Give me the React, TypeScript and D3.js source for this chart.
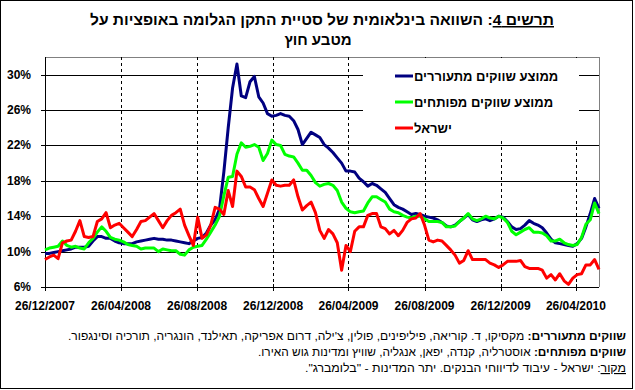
import React from 'react';
import * as d3 from 'd3';

// weekly observations, first one on 26/12/2007
const startDate = new Date(2007, 11, 26);

const emerging = [
  9.8, 9.8, 9.9, 10.0, 10.1, 10.2, 10.3, 10.5, 10.5, 10.5,
  10.6, 11.2, 11.7, 11.7, 11.5, 11.5, 11.2, 11.0, 10.9, 10.9,
  10.9, 11.1, 11.2, 11.3, 11.4, 11.5, 11.4, 11.4, 11.3, 11.3,
  11.2, 11.1, 11.0, 10.9, 11.2, 11.5, 11.6, 12.1, 13.0, 13.6,
  14.8, 19.0, 24.0, 28.5, 31.2, 27.6, 27.4, 29.2, 29.8, 27.5,
  26.8, 25.6, 25.3, 25.4, 25.6, 25.4, 25.3, 24.8, 23.8, 22.1,
  22.8, 23.5, 23.2, 22.9, 22.1, 21.7, 21.2, 20.6, 20.0, 19.1,
  19.1, 19.0, 18.3, 17.9, 17.4, 17.7, 17.5, 17.1, 16.7, 16.0,
  15.3, 15.0, 14.8, 14.5, 14.2, 14.3, 14.2, 14.0, 13.9, 13.8,
  13.6, 13.3, 12.9, 12.8, 13.0, 13.4, 13.8, 14.2, 13.6, 13.4,
  13.6, 13.7, 13.5, 13.7, 14.0, 13.9, 13.4, 12.8, 12.5, 12.6,
  13.0, 13.5, 13.2, 13.0, 12.7, 12.1, 11.4, 11.0, 10.9, 10.8,
  10.7, 10.6, 10.9, 11.5, 12.8, 14.3, 16.0, 14.9,
];

const developed = [
  10.2, 10.4, 10.5, 10.6, 11.2, 10.7, 10.5, 10.6, 10.4, 10.3,
  11.0, 11.5, 12.2, 12.8, 12.3, 11.6, 11.4, 11.3, 11.1, 10.8,
  10.7, 10.6, 10.3, 10.4, 10.4, 10.4, 10.0, 10.3, 10.2, 10.1,
  10.1, 9.7, 9.6, 10.2, 10.5, 10.6, 10.7, 11.4, 12.2, 13.0,
  14.0, 16.3, 18.4, 18.5, 21.0, 22.3, 21.8, 21.9, 22.1, 21.8,
  20.3, 21.1, 22.6, 22.1, 22.0, 21.0, 20.8, 20.7, 20.0, 19.2,
  19.2, 18.6, 17.8, 17.4, 17.6, 17.7, 17.5, 16.9, 15.6, 14.9,
  14.5, 14.4, 14.5, 14.6, 15.5, 16.2, 16.2, 15.9, 15.6, 14.8,
  14.5, 14.4, 14.1, 13.9, 13.8, 14.0, 14.0, 13.7, 13.4, 13.4,
  13.4, 13.3, 12.8, 12.8, 12.9, 13.4, 13.8, 14.3, 13.7, 13.5,
  13.7, 14.0, 13.8, 13.7, 14.0, 13.8, 13.3, 12.3, 11.9, 12.2,
  12.5, 12.7, 12.2, 12.2, 12.1, 11.8, 11.2, 11.2, 11.4, 11.0,
  10.8, 10.7, 10.8, 11.6, 13.1, 13.6, 15.5, 14.3,
];

const israel = [
  9.1, 9.4, 9.6, 9.2, 11.0, 11.2, 11.3, 12.3, 13.5, 11.7,
  11.6, 11.7, 13.4, 13.7, 14.4, 12.7, 13.0, 13.2, 12.7, 12.2,
  11.7, 12.5, 13.4, 13.5, 13.9, 14.3, 13.5, 12.7, 13.5, 14.1,
  14.4, 14.8, 13.0, 11.8, 10.7, 13.9, 11.5, 11.9, 13.0, 15.0,
  14.8, 14.2, 16.9, 15.1, 19.1, 18.5, 17.3, 17.3, 17.0, 16.0,
  15.1, 16.6, 18.1, 17.5, 17.4, 17.5, 17.5, 18.1, 16.2, 14.7,
  15.2, 15.6, 14.4, 12.4, 11.5, 12.5, 12.0, 11.0, 7.9, 10.7,
  10.0, 12.3, 12.8, 12.8, 14.1, 14.3, 14.3, 12.8, 12.6, 12.0,
  12.4, 11.8, 12.4, 13.3, 13.7, 13.8, 14.3, 13.0, 11.3, 11.1,
  11.3, 11.2, 10.7, 10.2, 9.6, 8.7, 9.0, 10.1, 9.1, 9.1,
  9.1, 9.1, 8.7, 8.5, 8.2, 8.5, 8.9, 8.9, 8.9, 9.0,
  8.3, 8.1, 8.1, 8.1, 7.9, 7.0, 7.4, 6.8, 7.5, 6.7,
  6.3, 7.0, 7.4, 7.5, 8.5, 8.5, 9.1, 8.0,
];

const tickLabels = [
  '26/12/2007', '26/04/2008', '26/08/2008', '26/12/2008',
  '26/04/2009', '26/08/2009', '26/12/2009', '26/04/2010',
];
const yTicks = [6, 10, 14, 18, 22, 26, 30];

const series = [
  { name: 'ממוצע שווקים מתעוררים', values: emerging, color: '#000080' },
  { name: 'ממוצע שווקים מפותחים', values: developed, color: '#00FF00' },
  { name: 'ישראל', values: israel, color: '#FF0000' },
];

const FONT = '"Liberation Sans", Arial, sans-serif';

export default function App() {
  const width = 635;
  const height = 390;
  const plot = { left: 45, right: 599, top: 57, bottom: 287 };

  const parse = d3.timeParse('%d/%m/%Y');
  const dates = emerging.map((_, i) => d3.timeDay.offset(startDate, 7 * i));

  const x = d3.scaleTime()
    .domain([dates[0], dates[dates.length - 1]])
    .range([plot.left, plot.right]);

  const y = d3.scaleLinear()
    .domain([6, 32])
    .range([plot.bottom, plot.top]);

  const line = d3.line<number>()
    .x((_, i) => x(dates[i]))
    .y(d => y(d));

  const ticks = tickLabels.map(t => ({ label: t, date: parse(t)! }));

  return (
    <>
      <style>{'body{margin:0}'}</style>
      <svg width={width} height={height} style={{ display: 'block', fontFamily: FONT }}>
        <rect x={0.5} y={0.5} width={632} height={388} fill="#fff" stroke="#000" />

        {/* title */}
        <text x={322} y={25} textAnchor="middle" fontSize={15} fontWeight="bold" textLength={464} lengthAdjust="spacingAndGlyphs">
          <tspan textDecoration="underline">תרשים 4</tspan>: השוואה בינלאומית של סטיית התקן הגלומה באופציות על
        </text>
        <text x={318} y={45} textAnchor="middle" fontSize={15} fontWeight="bold">
          מטבע חוץ
        </text>

        {/* plot frame */}
        <line x1={plot.left} x2={plot.right} y1={plot.top + 0.5} y2={plot.top + 0.5} stroke="#808080" />
        <line x1={plot.right + 0.5} x2={plot.right + 0.5} y1={plot.top} y2={plot.bottom} stroke="#808080" />

        {/* horizontal grid */}
        {yTicks.filter(t => t > 6).map(t => (
          <line key={t} x1={plot.left} x2={plot.right} y1={Math.round(y(t)) + 0.5} y2={Math.round(y(t)) + 0.5} stroke="#000" />
        ))}

        {/* vertical dashed grid */}
        {ticks.slice(1).map(t => (
          <line key={t.label} x1={Math.round(x(t.date)) + 0.5} x2={Math.round(x(t.date)) + 0.5}
            y1={plot.top} y2={plot.bottom} stroke="#000" strokeDasharray="3,3" />
        ))}

        {/* legend background */}
        <rect x={363} y={58} width={216} height={82} fill="#fff" />

        {/* axes */}
        <line x1={plot.left + 0.5} x2={plot.left + 0.5} y1={plot.top} y2={plot.bottom} stroke="#000" />
        <line x1={plot.left} x2={plot.right} y1={plot.bottom + 0.5} y2={plot.bottom + 0.5} stroke="#000" />
        {yTicks.map(t => (
          <g key={t}>
            <line x1={plot.left - 4} x2={plot.left} y1={Math.round(y(t)) + 0.5} y2={Math.round(y(t)) + 0.5} stroke="#000" />
            <text x={31} y={y(t) + 4} textAnchor="end" fontSize={12} fontWeight="bold">{t}%</text>
          </g>
        ))}
        {ticks.map(t => (
          <g key={t.label}>
            <line x1={Math.round(x(t.date)) + 0.5} x2={Math.round(x(t.date)) + 0.5} y1={plot.bottom - 3} y2={plot.bottom + 4} stroke="#000" />
            <text x={x(t.date)} y={310} textAnchor="middle" fontSize={12} fontWeight="bold">{t.label}</text>
          </g>
        ))}

        {/* series */}
        {series.map(s => (
          <path key={s.name} d={line(s.values) ?? ''} fill="none" stroke={s.color} strokeWidth={3} strokeLinejoin="round" />
        ))}

        {/* legend */}
        {series.map((s, i) => (
          <g key={s.name} transform={`translate(395,${76 + i * 26})`}>
            <line x1={0} x2={18} y1={0} y2={0} stroke={s.color} strokeWidth={3} />
            <text x={19} y={5} fontSize={13} fontWeight="bold">{s.name}</text>
          </g>
        ))}

        {/* notes */}
        <g fontSize={11.5} direction="rtl">
          <text x={626} y={340} direction="rtl" textAnchor="start" textLength={558} lengthAdjust="spacingAndGlyphs">
            <tspan fontWeight="bold">שווקים מתעוררים:</tspan> מקסיקו, ד. קוריאה, פיליפינים, פולין, צ'ילה, דרום אפריקה, תאילנד, הונגריה, תורכיה וסינגפור.
          </text>
          <text x={626} y={356} direction="rtl" textAnchor="start" textLength={368} lengthAdjust="spacingAndGlyphs">
            <tspan fontWeight="bold">שווקים מפותחים:</tspan> אוסטרליה, קנדה, יפאן, אנגליה, שוויץ ומדינות גוש האירו.
          </text>
          <text x={626} y={372} direction="rtl" textAnchor="start" textLength={321} lengthAdjust="spacingAndGlyphs">
            <tspan textDecoration="underline">מקור</tspan>: ישראל - עיבוד לדיווחי הבנקים. יתר המדינות - "בלומברג".
          </text>
        </g>
      </svg>
    </>
  );
}
